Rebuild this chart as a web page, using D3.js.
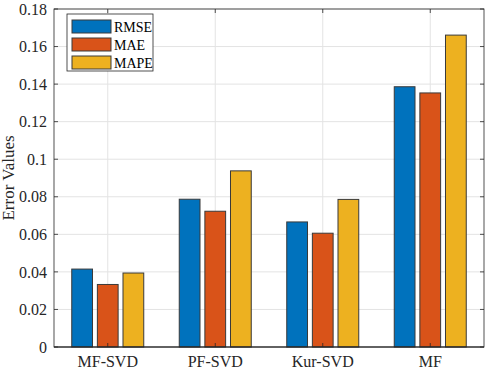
<!DOCTYPE html>
<html><head><meta charset="utf-8">
<script src="https://cdn.jsdelivr.net/npm/d3@7"></script>
<style>body{margin:0;background:#fff;} text{font-family:"Liberation Serif","Times New Roman",serif;}</style>
</head><body>
<svg id="c" width="486" height="370"></svg>
<script>
const categories = ["MF-SVD","PF-SVD","Kur-SVD","MF"];
const seriesNames = ["RMSE","MAE","MAPE"];
const rmse = [0.0415, 0.0787, 0.0666, 0.1386];
const mae  = [0.0333, 0.0723, 0.0606, 0.1353];
const mape = [0.0394, 0.0938, 0.0786, 0.1661];
const yTicks = [0,0.02,0.04,0.06,0.08,0.1,0.12,0.14,0.16,0.18];
const colors = ["#0072BD","#D95319","#EDB120"];
const series = [rmse, mae, mape];

const svg = d3.select("#c");
const m = {l:54, r:484, t:9, b:347};
const x = d3.scaleBand().domain(categories).range([m.l, m.r]).padding(0);
const xs = d3.scaleBand().domain(seriesNames).range([-36, 36]).paddingInner(0.19).paddingOuter(0);
const y = d3.scaleLinear().domain([0,0.18]).range([m.b, m.t]);

// grid
const g = svg.append("g");
g.selectAll("line.gy").data(yTicks).join("line")
  .attr("x1", m.l).attr("x2", m.r).attr("y1", d=>y(d)).attr("y2", d=>y(d))
  .attr("stroke","#e3e3e3").attr("stroke-width",1);
g.selectAll("line.gx").data(categories).join("line")
  .attr("y1", m.t).attr("y2", m.b).attr("x1", d=>x(d)+x.bandwidth()/2).attr("x2", d=>x(d)+x.bandwidth()/2)
  .attr("stroke","#e3e3e3").attr("stroke-width",1);

// bars
series.forEach((vals, si) => {
  svg.append("g").selectAll("rect").data(vals).join("rect")
    .attr("x", (d,i)=> x(categories[i]) + x.bandwidth()/2 + xs(seriesNames[si]))
    .attr("width", xs.bandwidth())
    .attr("y", d=>y(d)).attr("height", d=>y(0)-y(d))
    .attr("fill", colors[si]).attr("stroke","#3a3a3a").attr("stroke-width",1);
});

// axes
const ax = svg.append("g").attr("transform",`translate(0,${m.b})`)
  .call(d3.axisBottom(x).tickSize(0).tickPadding(9));
const ay = svg.append("g").attr("transform",`translate(${m.l},0)`)
  .call(d3.axisLeft(y).tickValues(yTicks).tickFormat(d=>d===0?"0":String(+d.toFixed(2))).tickSize(0).tickPadding(7));
[ax, ay].forEach(a=>{a.select(".domain").remove(); a.selectAll("text").attr("font-size",16).attr("fill","#262626").attr("font-family","Liberation Serif, serif");});

// tick marks inside
const tk = svg.append("g").attr("stroke","#262626").attr("stroke-width",0.8);
yTicks.forEach(t=>{
  tk.append("line").attr("x1",m.l).attr("x2",m.l+4).attr("y1",y(t)).attr("y2",y(t));
  tk.append("line").attr("x1",m.r).attr("x2",m.r-4).attr("y1",y(t)).attr("y2",y(t));
});
categories.forEach(c=>{
  const cx = x(c)+x.bandwidth()/2;
  tk.append("line").attr("x1",cx).attr("x2",cx).attr("y1",m.b).attr("y2",m.b-4);
  tk.append("line").attr("x1",cx).attr("x2",cx).attr("y1",m.t).attr("y2",m.t+4);
});
// box
svg.append("rect").attr("x",m.l).attr("y",m.t).attr("width",m.r-m.l).attr("height",m.b-m.t)
  .attr("fill","none").attr("stroke","#262626").attr("stroke-width",0.8);
svg.append("line").attr("x1",m.l).attr("x2",m.r).attr("y1",m.b).attr("y2",m.b).attr("stroke","#262626").attr("stroke-width",1.2);

// y label
svg.append("text").attr("transform",`translate(14,${(m.t+m.b)/2}) rotate(-90)`)
  .attr("text-anchor","middle").attr("font-size",17).attr("fill","#262626").text("Error Values");

// legend
const lg = svg.append("g");
lg.append("rect").attr("x",67).attr("y",14).attr("width",86).attr("height",57)
  .attr("fill","#fff").attr("stroke","#262626").attr("stroke-width",0.8);
seriesNames.forEach((n,i)=>{
  lg.append("rect").attr("x",72).attr("y",20+i*18).attr("width",39).attr("height",13)
    .attr("fill",colors[i]).attr("stroke","#3a3a3a").attr("stroke-width",1);
  lg.append("text").attr("x",114).attr("y",31.5+i*18).attr("font-size",14).attr("fill","#000").text(n);
});
</script>
</body></html>
